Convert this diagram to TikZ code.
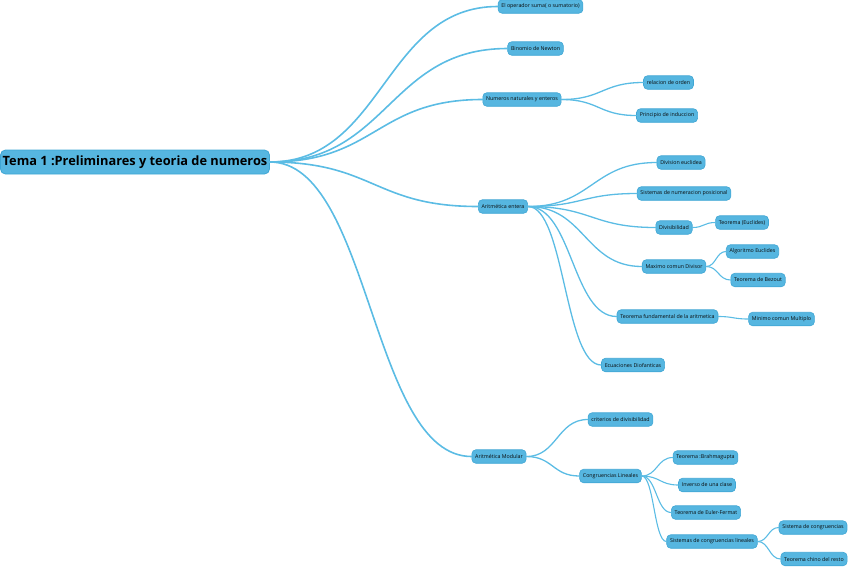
\documentclass[tikz,border=0pt]{standalone}
\usepackage{fontspec}
\setmainfont{Open Sans}
\usetikzlibrary{calc}
\definecolor{nodefill}{HTML}{56B6E0}
\definecolor{nodeedge}{HTML}{3FA6D4}
\definecolor{linkcol}{HTML}{5BBCE4}
\definecolor{txt}{HTML}{0A0A0A}
\tikzset{
  leaf/.style={draw=nodeedge, line width=0.6pt, fill=nodefill, rounded corners=4pt,
    minimum height=13.5pt, inner xsep=3.3pt, inner ysep=0pt, text=txt,
    font=\fontsize{5.3}{6}\selectfont},
  rootbox/.style={draw=nodeedge, line width=0.8pt, fill=nodefill, rounded corners=5pt,
    minimum height=24pt, minimum width=269pt, inner sep=0pt, text=black,
    font=\fontsize{12.8}{15}\bfseries},
  branch/.style={draw=linkcol, line cap=round,
    to path={let \p1=(\tikztostart), \p2=(\tikztotarget) in
      .. controls ({0.5*\x1+0.5*\x2},\y1) and ({0.5*\x1+0.5*\x2},\y2) .. (\tikztotarget)}},
  b1/.style={branch, line width=1.6pt},
  b2/.style={branch, line width=1.3pt},
  b3/.style={branch, line width=1.1pt}
}
\begin{document}
\begin{tikzpicture}[x=1pt,y=-1pt]
\useasboundingbox (0,0) rectangle (848,566);
% nodes
\node[rootbox] (root) at (135,162) {Tema 1 :Preliminares y teoria de numeros};
\node[leaf] (op) at (540.5,6.5) {El operador suma( o sumatorio)};
\node[leaf] (bin) at (535.5,48.5) {Binomio de Newton};
\node[leaf] (nat) at (522,99.5) {Numeros naturales y enteros};
\node[leaf] (ord) at (668.5,82.5) {relacion de orden};
\node[leaf] (ind) at (667,115.5) {Principio de induccion};
\node[leaf] (ent) at (503,206.5) {Aritmética entera};
\node[leaf] (div) at (681,162.5) {Division euclidea};
\node[leaf] (sis) at (684,193.5) {Sistemas de numeracion posicional};
\node[leaf] (dvb) at (674,227.5) {Divisibilidad};
\node[leaf] (euc) at (742,222.5) {Teorema (Euclides)};
\node[leaf] (mcd) at (674,266.5) {Maximo comun Divisor};
\node[leaf] (alg) at (752.5,251.5) {Algoritmo Euclides};
\node[leaf] (bez) at (758,280) {Teorema de Bezout};
\node[leaf] (tfa) at (667.5,316.5) {Teorema fundamental de la aritmetica};
\node[leaf] (mcm) at (781.5,319) {Minimo comun Multiplo};
\node[leaf] (dio) at (633,365) {Ecuaciones Diofanticas};
\node[leaf] (mod) at (499,456.5) {Aritmética Modular};
\node[leaf] (cri) at (620.5,419.5) {criterios de divisibilidad};
\node[leaf] (con) at (610.5,476) {Congruencias Lineales};
\node[leaf] (bra) at (705.5,457.5) {Teorema :Brahmagupta};
\node[leaf] (inv) at (707,485) {Inverso de una clase};
\node[leaf] (eul) at (706,512.5) {Teorema de Euler-Fermat};
\node[leaf] (scl) at (712,541.5) {Sistemas de congruencias lineales};
\node[leaf] (sco) at (813,527.5) {Sistema de congruencias};
\node[leaf] (chi) at (814,559) {Teorema chino del resto};
% connectors
\foreach \c in {op,bin,nat,ent,mod} \draw[b1] (root.east) to (\c.west);
\foreach \c in {ord,ind} \draw[b2] (nat.east) to (\c.west);
\foreach \c in {div,sis,dvb,mcd,tfa,dio} \draw[b2] (ent.east) to (\c.west);
\draw[b3] (dvb.east) to (euc.west);
\foreach \c in {alg,bez} \draw[b3] (mcd.east) to (\c.west);
\draw[b3] (tfa.east) to (mcm.west);
\foreach \c in {cri,con} \draw[b2] (mod.east) to (\c.west);
\foreach \c in {bra,inv,eul,scl} \draw[b3] (con.east) to (\c.west);
\foreach \c in {sco,chi} \draw[b3] (scl.east) to (\c.west);
\end{tikzpicture}
\end{document}
